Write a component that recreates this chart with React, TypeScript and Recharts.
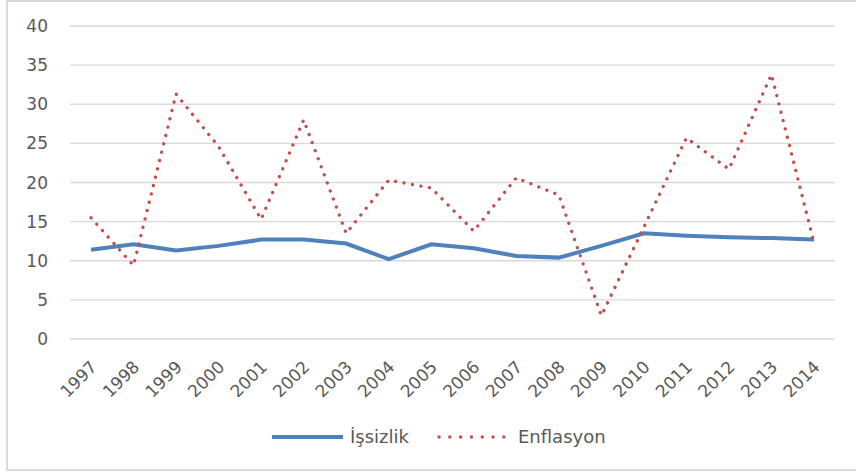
import { LineChart, Line, XAxis, YAxis, CartesianGrid, Legend } from 'recharts';

const years = ['1997', '1998', '1999', '2000', '2001', '2002', '2003', '2004', '2005', '2006', '2007', '2008', '2009', '2010', '2011', '2012', '2013', '2014'];
const issizlik = [11.4, 12.1, 11.3, 11.9, 12.7, 12.7, 12.2, 10.2, 12.1, 11.6, 10.6, 10.4, 11.9, 13.5, 13.2, 13.0, 12.9, 12.7];
const enflasyon = [15.5, 9.4, 31.3, 24.6, 15.3, 28.0, 13.5, 20.3, 19.3, 13.8, 20.6, 18.4, 3.0, 14.3, 25.7, 21.7, 33.8, 12.3];
const yTicks = [0, 5, 10, 15, 20, 25, 30, 35, 40];

const data = years.map((year, i) => ({ year, issizlik: issizlik[i], enflasyon: enflasyon[i] }));

const textColor = '#595959';
const font = 'DejaVu Sans, sans-serif';

const XTick = ({ x, y, payload }: any) => (
	<text
		x={x + 7}
		y={y + 21}
		transform={`rotate(-45 ${x + 7} ${y + 21})`}
		textAnchor='end'
		fill={textColor}
		fontSize={17}
		fontFamily={font}
	>
		{payload.value}
	</text>
);

const LegendContent = () => (
	<svg width={856} height={30}>
		<line x1={272} y1={15} x2={343} y2={15} stroke='#4F81BD' strokeWidth={4} />
		<text x={350} y={21} fill={textColor} fontSize={18} fontFamily={font}>
			İşsizlik
		</text>
		<line
			x1={439}
			y1={15}
			x2={504}
			y2={15}
			stroke='#C0504D'
			strokeWidth={3.3}
			strokeLinecap='round'
			strokeDasharray='0.1 10.7'
		/>
		<text x={518} y={21} fill={textColor} fontSize={18} fontFamily={font}>
			Enflasyon
		</text>
	</svg>
);

const App = () => (
	<div
		style={{
			position: 'absolute',
			left: 0,
			top: 0,
			width: 856,
			height: 476,
			background: '#fff',
		}}
	>
		<div
			style={{
				position: 'absolute',
				left: 6,
				top: 0,
				width: 856,
				height: 471,
				border: '2px solid #D9D9D9',
				boxSizing: 'border-box',
			}}
		/>
		<div style={{ position: 'absolute', left: 0, top: 0 }}>
			<LineChart width={856} height={476} data={data} margin={{ top: 26, right: 21, left: 0, bottom: 0 }}>
				<CartesianGrid vertical={false} stroke='#D9D9D9' strokeWidth={1.3} />
				<XAxis
					dataKey='year'
					axisLine={false}
					tickLine={false}
					height={70}
					interval={0}
					padding={{ left: 21, right: 21 }}
					tick={<XTick />}
				/>
				<YAxis
					domain={[0, 40]}
					ticks={yTicks}
					width={70}
					axisLine={false}
					tickLine={false}
					tickMargin={16}
					tick={{ fill: textColor, fontSize: 17, fontFamily: font }}
				/>
				<Legend
					verticalAlign='bottom'
					height={67}
					content={<LegendContent />}
					wrapperStyle={{ left: 0, top: 422, width: 856 }}
				/>
				<Line
					type='linear'
					dataKey='issizlik'
					stroke='#4F81BD'
					strokeWidth={4}
					dot={false}
					isAnimationActive={false}
				/>
				<Line
					type='linear'
					dataKey='enflasyon'
					stroke='#C0504D'
					strokeWidth={3.3}
					strokeLinecap='round'
					strokeDasharray='0.1 8.5'
					dot={false}
					isAnimationActive={false}
				/>
			</LineChart>
		</div>
	</div>
);

export default App;
